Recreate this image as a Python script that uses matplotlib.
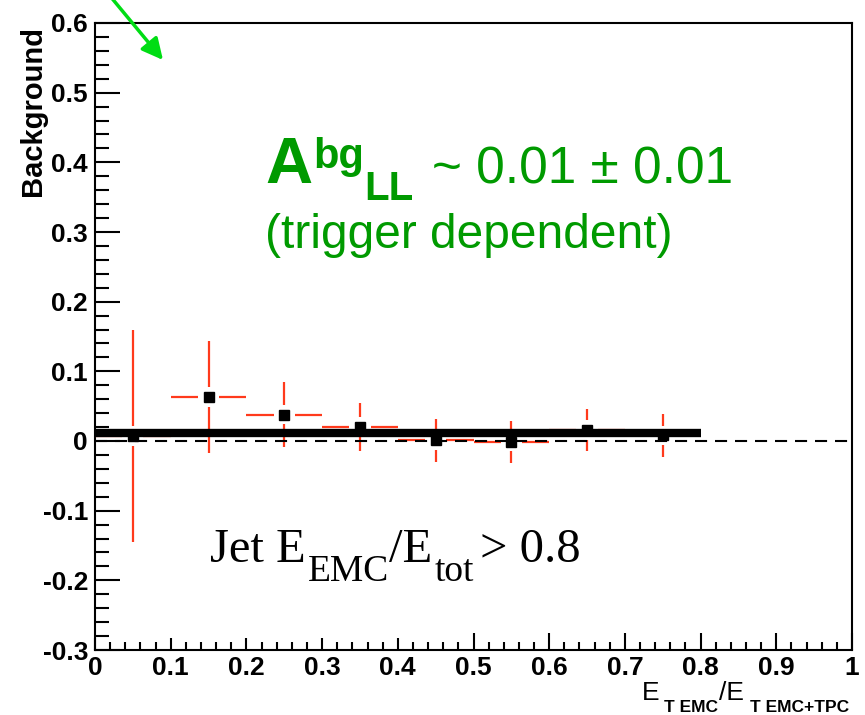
import matplotlib
matplotlib.use("Agg")
import matplotlib.pyplot as plt
import numpy as np
from matplotlib.ticker import MultipleLocator, FixedFormatter, FixedLocator

# data
bin_centers = [0.05, 0.15, 0.25, 0.35, 0.45, 0.55, 0.65, 0.75]
bin_half_width = 0.05
background = [0.007, 0.063, 0.038, 0.020, 0.001, -0.001, 0.016, 0.008]
background_err = [0.152, 0.080, 0.046, 0.035, 0.031, 0.030, 0.030, 0.031]
fit_range = [0.0, 0.8]
fit_value = 0.012

x_ticks = [0, 0.1, 0.2, 0.3, 0.4, 0.5, 0.6, 0.7, 0.8, 0.9, 1.0]
x_tick_labels = ["0", "0.1", "0.2", "0.3", "0.4", "0.5", "0.6", "0.7", "0.8", "0.9", "1"]
y_ticks = [-0.3, -0.2, -0.1, 0, 0.1, 0.2, 0.3, 0.4, 0.5, 0.6]
y_tick_labels = ["-0.3", "-0.2", "-0.1", "0", "0.1", "0.2", "0.3", "0.4", "0.5", "0.6"]

W, H = 865, 715
RED = "#ff3a1c"
GREEN = "#009a00"
ARROW_GREEN = "#00dd14"
SANS = ["Liberation Sans", "DejaVu Sans"]
SERIF = ["Liberation Serif", "DejaVu Serif"]


def fx(px):
    return px / W


def fy(py):
    return 1 - py / H


def label(px, py, s, **kw):
    kw.setdefault("va", "baseline")
    return fig.text(fx(px), fy(py), s, **kw)


def chain(x0, pieces, **common):
    # pieces: (text, baseline_px, fontsize, gap_before_px, extra kwargs)
    renderer = fig.canvas.get_renderer()
    xpos = x0
    for s, py, size, gap, extra in pieces:
        xpos += gap
        t = label(xpos, py, s, fontsize=size, **common, **extra)
        xpos = t.get_window_extent(renderer).x1


fig = plt.figure(figsize=(W / 100, H / 100), dpi=100)
ax = fig.add_axes([fx(95), fy(650), fx(852) - fx(95), fy(23) - fy(650)])
ax.set_xlim(0, 1)
ax.set_ylim(-0.3, 0.6)

# error bars with a gap around the marker (ROOT style)
x = np.array(bin_centers)
y = np.array(background)
e = np.array(background_err)
gy, gx = 0.014, 0.014
keep = e > gy
ax.vlines(x[keep], (y + gy)[keep], (y + e)[keep], color=RED, lw=1.6, zorder=3)
ax.vlines(x[keep], (y - e)[keep], (y - gy)[keep], color=RED, lw=1.6, zorder=3)
ax.hlines(y, x - bin_half_width, x - gx, color=RED, lw=1.6, zorder=3)
ax.hlines(y, x + gx, x + bin_half_width, color=RED, lw=1.6, zorder=3)

# zero line drawn over the error bars
ax.axhline(0, color="black", lw=1.5, dashes=(5.8, 3.8), zorder=3.5)

# fit
ax.plot(fit_range, [fit_value, fit_value], color="black", lw=6, solid_capstyle="butt", zorder=4)

ax.plot(x, y, ls="none", marker="s", ms=7, color="black", zorder=5)

# axes style
for sp in ax.spines.values():
    sp.set_linewidth(1.5)
ax.xaxis.set_major_locator(FixedLocator(x_ticks))
ax.xaxis.set_major_formatter(FixedFormatter(x_tick_labels))
ax.xaxis.set_minor_locator(MultipleLocator(0.02))
ax.yaxis.set_major_locator(FixedLocator(y_ticks))
ax.yaxis.set_major_formatter(FixedFormatter(y_tick_labels))
ax.yaxis.set_minor_locator(MultipleLocator(0.02))
ax.tick_params(axis="both", which="both", direction="in", width=1.5, top=False, right=False)
ax.tick_params(axis="x", which="major", length=8.5, pad=4)
ax.tick_params(axis="x", which="minor", length=5.5)
ax.tick_params(axis="y", which="major", length=18, pad=5)
ax.tick_params(axis="y", which="minor", length=10)
for t, v in zip(ax.xaxis.get_major_ticks(), x_ticks):
    if v >= 0.5:
        t.tick1line.set_markersize(12)
for lab in ax.get_xticklabels() + ax.get_yticklabels():
    lab.set_fontfamily(SANS)
    lab.set_fontweight("bold")
    lab.set_fontsize(19)

# axis titles
fig.text(fx(33), fy(26), "Background", rotation=90, ha="center", va="top",
         family=SANS, weight="bold", fontsize=21)
bold = {"weight": "bold"}
chain(642, [
    ("E", 700, 19, 0, {}),
    ("T EMC", 712, 12.5, 4, bold),
    ("/E", 700, 19, 1, {}),
    ("T EMC+TPC", 712, 12.5, 6, bold),
], family=SANS)

# annotations
label(265, 183, "A", color=GREEN, family=SANS, weight="bold", fontsize=47)
label(313, 168, "bg", color=GREEN, family=SANS, weight="bold", fontsize=30)
label(364, 200, "LL", color=GREEN, family=SANS, weight="bold", fontsize=29)
label(432, 183, "~ 0.01 \u00b1 0.01", color=GREEN, family=SANS, fontsize=37)
label(265, 248, "(trigger dependent)", color=GREEN, family=SANS, fontsize=34.5)

chain(210, [
    ("Jet E", 562, 35, 0, {}),
    ("EMC", 581, 27, 2, {}),
    ("/E", 562, 35, 0, {}),
    ("tot", 581, 27, 2, {}),
    ("> 0.8", 562, 35, 6, {}),
], family=SERIF)

ax.annotate("", xy=(163, H - 60), xytext=(110, H + 4), xycoords="figure pixels",
            textcoords="figure pixels", annotation_clip=False,
            arrowprops=dict(arrowstyle="-|>", color=ARROW_GREEN, lw=2.5, mutation_scale=32,
                            shrinkA=0, shrinkB=0))

fig.savefig("out.png", dpi=100)
